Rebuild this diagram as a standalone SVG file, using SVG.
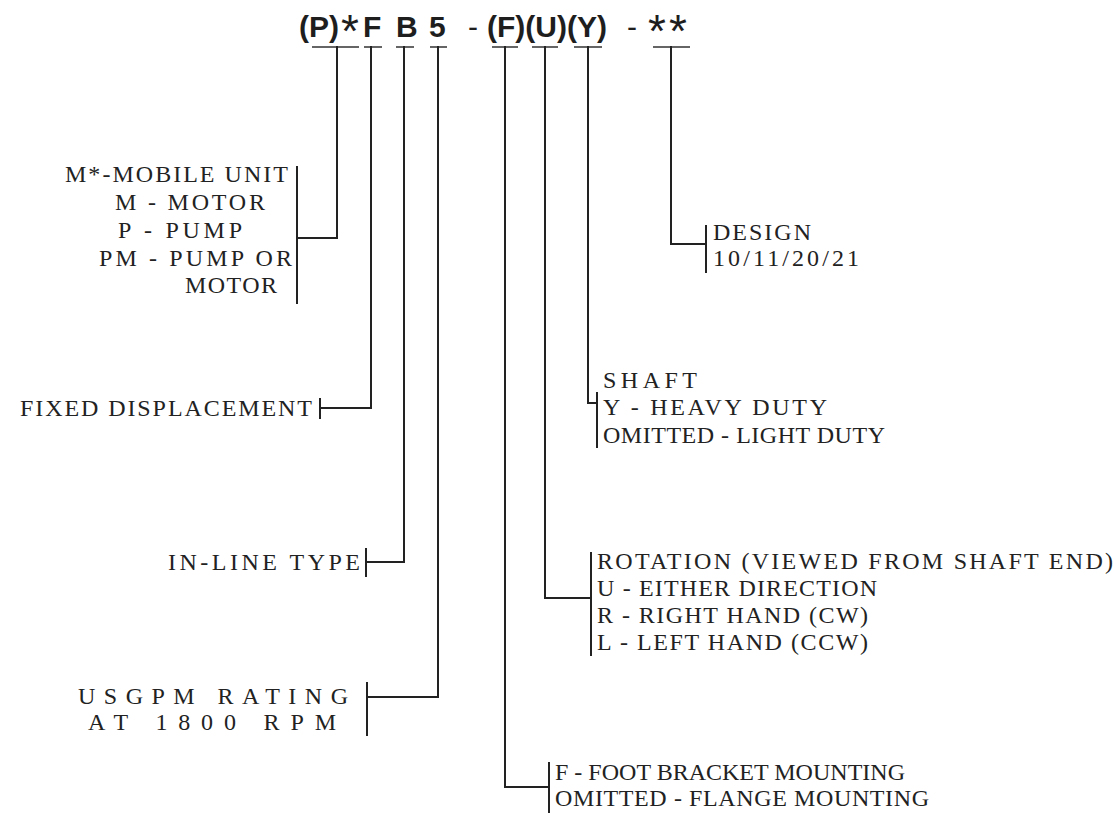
<svg xmlns="http://www.w3.org/2000/svg" width="1120" height="814" viewBox="0 0 1120 814">
<style>
.bg{fill:#ffffff}
.hd{font-family:"Liberation Sans",Arial,sans-serif;font-weight:bold;font-size:30px;fill:#1e1e1e}
.hy{font-family:"Liberation Sans",Arial,sans-serif;font-size:30px;fill:#1e1e1e}
.st{font-family:"Liberation Sans",Arial,sans-serif;font-size:46px;fill:#1e1e1e}
.lb{font-family:"Liberation Serif","Times New Roman",serif;font-size:24px;fill:#222}
.ln{stroke:#222;stroke-width:2;fill:none;stroke-linecap:square}
.ul{stroke:#333;stroke-width:1.6;fill:none}
</style>
<rect class="bg" x="0" y="0" width="1120" height="814"/>
<g id="code">
<text class="hd" x="299" y="37" font-size="32">(P)</text>
<text class="st" x="341" y="47">*</text>
<text class="hd" x="363" y="37">F</text>
<text class="hd" x="396" y="37">B</text>
<text class="hd" x="429" y="37">5</text>
<text class="hy" x="468" y="37">-</text>
<text class="hd" x="487" y="37">(F)(U)(Y)</text>
<text class="hy" x="627" y="37">-</text>
<text class="st" x="648" y="47" letter-spacing="3">**</text>
</g>
<g id="underlines">
<path class="ul" d="M312 47H359M364 47H382M396 47H414M430 47H447M492 47H518M532 47H558M574 47H602M653 47H690"/>
</g>
<g id="connectors">
<path class="ln" d="M337 47V238H297M297 167V303"/>
<path class="ln" d="M371 47V408H320M320 399V418"/>
<path class="ln" d="M404 47V562H366M366 549V576"/>
<path class="ln" d="M438 47V697H367M367 683V735"/>
<path class="ln" d="M505 47V787H549M549 763V812"/>
<path class="ln" d="M545 47V598H591M591 553V655"/>
<path class="ln" d="M588 47V403H597M597 393V447"/>
<path class="ln" d="M671 47V244H706M706 226V272"/>
</g>
<g id="n-type">
<text class="lb" x="65" y="182" textLength="223" lengthAdjust="spacing">M*-MOBILE UNIT</text>
<text class="lb" x="115" y="210" textLength="150" lengthAdjust="spacing">M - MOTOR</text>
<text class="lb" x="118" y="238" textLength="124" lengthAdjust="spacing">P - PUMP</text>
<text class="lb" x="99" y="266" textLength="193" lengthAdjust="spacing">PM - PUMP OR</text>
<text class="lb" x="185" y="293" textLength="92" lengthAdjust="spacing">MOTOR</text>
</g>
<g id="n-fixed">
<text class="lb" x="20" y="416" textLength="292" lengthAdjust="spacing">FIXED DISPLACEMENT</text>
</g>
<g id="n-inline">
<text class="lb" x="168" y="570" textLength="192" lengthAdjust="spacing">IN-LINE TYPE</text>
</g>
<g id="n-rating">
<text class="lb" x="78" y="704" textLength="270" lengthAdjust="spacing">USGPM RATING</text>
<text class="lb" x="88" y="730" textLength="248" lengthAdjust="spacing">AT 1800 RPM</text>
</g>
<g id="n-mount">
<text class="lb" x="555" y="780" textLength="350" lengthAdjust="spacing">F - FOOT BRACKET MOUNTING</text>
<text class="lb" x="555" y="806" textLength="374" lengthAdjust="spacing">OMITTED - FLANGE MOUNTING</text>
</g>
<g id="n-rotation">
<text class="lb" x="597" y="569" textLength="516" lengthAdjust="spacing">ROTATION (VIEWED FROM SHAFT END)</text>
<text class="lb" x="597" y="596" textLength="280" lengthAdjust="spacing">U - EITHER DIRECTION</text>
<text class="lb" x="597" y="623" textLength="271" lengthAdjust="spacing">R - RIGHT HAND (CW)</text>
<text class="lb" x="597" y="650" textLength="271" lengthAdjust="spacing">L - LEFT HAND (CCW)</text>
</g>
<g id="n-shaft">
<text class="lb" x="603" y="388" textLength="94" lengthAdjust="spacing">SHAFT</text>
<text class="lb" x="603" y="415" textLength="224" lengthAdjust="spacing">Y - HEAVY DUTY</text>
<text class="lb" x="603" y="443" textLength="282" lengthAdjust="spacing">OMITTED - LIGHT DUTY</text>
</g>
<g id="n-design">
<text class="lb" x="713" y="240" textLength="98" lengthAdjust="spacing">DESIGN</text>
<text class="lb" x="713" y="266" textLength="146" lengthAdjust="spacing">10/11/20/21</text>
</g>
</svg>
